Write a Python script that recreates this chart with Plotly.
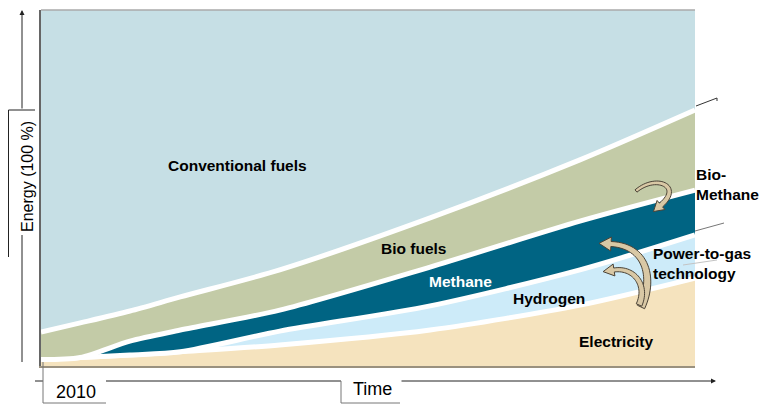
import plotly.graph_objects as go

# ---- data : share of energy (%) over time (0 = 2010, 1 = end of axis) ----
time = [0.0, 0.06, 0.136, 0.213, 0.365, 0.595, 0.824, 1.0]
electricity = [1.8, 2.4, 3.1, 4.0, 5.9, 10.1, 17.1, 24.7]
hydrogen = [0.0, 0.0, 0.0, 0.0, 3.9, 6.8, 9.9, 12.1]
methane = [0.0, 0.0, 3.9, 6.1, 5.9, 10.9, 13.7, 12.6]
bio_fuels = [7.75, 9.7, 8.45, 9.3, 11.3, 13.8, 17.2, 22.5]
conventional = [90.45, 87.9, 84.55, 80.6, 73.0, 58.4, 42.1, 28.1]

layers = [
    ("Electricity", electricity, "#F5E3BE"),
    ("Hydrogen", hydrogen, "#CDEBF9"),
    ("Methane", methane, "#006483"),
    ("Bio fuels", bio_fuels, "#C3CBA7"),
    ("Conventional fuels", conventional, "#C6DFE5"),
]

# page pixels of the plot area; the page body adds an 8px margin
W, H = 769, 406
OFF = 8
L, R, T, B = 41, 695, 10, 366
FONT = "Liberation Sans, Arial, sans-serif"


def px(x):
    return (x - L) / (R - L)


def py(y):
    return (B - y) / (B - T)


def bez(p0, c1, c2, p3, t):
    u = 1 - t
    x = u**3 * p0[0] + 3 * u * u * t * c1[0] + 3 * u * t * t * c2[0] + t**3 * p3[0]
    y = u**3 * p0[1] + 3 * u * u * t * c1[1] + 3 * u * t * t * c2[1] + t**3 * p3[1]
    dx = 3 * u * u * (c1[0] - p0[0]) + 6 * u * t * (c2[0] - c1[0]) + 3 * t * t * (p3[0] - c2[0])
    dy = 3 * u * u * (c1[1] - p0[1]) + 6 * u * t * (c2[1] - c1[1]) + 3 * t * t * (p3[1] - c2[1])
    n = (dx * dx + dy * dy) ** 0.5
    return x, y, dx / n, dy / n


def curved_arrow(p0, c1, c2, p3, w0, w1, head_len, head_w, n=30):
    left, right = [], []
    for i in range(n + 1):
        t = i / n
        x, y, dx, dy = bez(p0, c1, c2, p3, t)
        w = (w0 + (w1 - w0) * t) / 2
        left.append((x - dy * w, y + dx * w))
        right.append((x + dy * w, y - dx * w))
    x, y, dx, dy = bez(p0, c1, c2, p3, 1)
    head = [(x - dy * head_w, y + dx * head_w),
            (x + dx * head_len, y + dy * head_len),
            (x + dy * head_w, y - dx * head_w)]
    pts = left + head + right[::-1]
    return "M " + " L ".join(f"{px(a):.5f},{py(b):.5f}" for a, b in pts) + " Z"


fig = go.Figure()
for name, vals, col in layers:
    fig.add_trace(go.Scatter(
        x=time, y=vals, name=name, stackgroup="one", mode="lines",
        line=dict(color="white", width=0 if name == "Conventional fuels" else 5,
                  shape="spline", smoothing=0.8),
        fillcolor=col, hoverinfo="skip", showlegend=False,
    ))

shapes = []


def seg(x0, y0, x1, y1, color="#222", width=1):
    shapes.append(dict(type="line", xref="paper", yref="paper",
                       x0=px(x0), y0=py(y0), x1=px(x1), y1=py(y1),
                       line=dict(color=color, width=width)))


# plot frame
seg(L, T, R, T, "#aaaaaa", 1.5)
# callout ticks on the right
seg(696, 106, 717, 98, "#333", 1)
seg(717, 98, 717, 101, "#333", 1)
seg(695, 231, 724, 223, "#777", 1)
seg(683, 265, 717, 260, "#c4c4c4", 1)

# y axis and label bracket
seg(22, 235, 22, 362)
seg(8.5, 110, 35, 110)
seg(8.5, 110, 8.5, 257)
# x axis and boxes
seg(35, 381, 43, 381)
seg(43, 362, 43, 403, "#777")
seg(43, 403, 106, 403, "#777")
seg(106, 381, 341, 381)
seg(341, 381, 341, 403, "#777")
seg(341, 403, 400, 403, "#777")

# curved arrows
arrow_style = dict(type="path", xref="paper", yref="paper",
                   fillcolor="#D9C8A5", line=dict(color="#4a4236", width=1), layer="above")
shapes.append(dict(path=curved_arrow((636, 191), (656, 174), (683, 186), (661, 205), 3, 5, 10, 6), **arrow_style))
shapes.append(dict(path=curved_arrow((641, 307), (654, 280), (648, 246), (611, 244), 8, 5, 12, 7), **arrow_style))
shapes.append(dict(path=curved_arrow((639, 305), (648, 285), (634, 267), (614, 270), 6, 4, 11, 6), **arrow_style))

annotations = []


def label(text, x, y, size=15.5, color="black", bold=True, xanchor="center", **kw):
    annotations.append(dict(
        text=f"<b>{text}</b>" if bold else text,
        x=px(x), y=py(y), xref="paper", yref="paper", showarrow=False,
        xanchor=xanchor, yanchor="middle",
        font=dict(size=size, color=color, family=FONT), **kw))


label("Conventional fuels", 237, 165)
label("Bio fuels", 413, 248)
label("Methane", 460, 281, color="white")
label("Hydrogen", 549, 298)
label("Electricity", 616, 341)
label("Bio-<br>Methane", 694, 184, xanchor="left", align="left")
label("Power-to-gas<br>technology", 651, 263, xanchor="left", align="left")
label("Energy (100 %)", 27, 177, size=16, bold=False, textangle=-90)
label("2010", 76, 392, size=18, bold=False)
label("Time", 372, 389, size=18, bold=False)

# axis arrows
annotations.append(dict(x=px(22), y=py(10), xref="paper", yref="paper", text="",
                        showarrow=True, ax=0, ay=100, arrowhead=2, arrowsize=1,
                        arrowwidth=1, arrowcolor="#222"))
annotations.append(dict(x=px(716), y=py(381), xref="paper", yref="paper", text="",
                        showarrow=True, ax=-316, ay=0, arrowhead=2, arrowsize=1,
                        arrowwidth=1, arrowcolor="#222"))

fig.update_layout(
    width=W - OFF, height=H - OFF,
    margin=dict(l=L - OFF, r=W - R, t=T - OFF, b=H - B),
    paper_bgcolor="white", plot_bgcolor="white",
    xaxis=dict(range=[0, 1], showgrid=False, zeroline=False, showticklabels=False,
               ticks="", showline=True, linecolor="#9a917f", linewidth=1.5),
    yaxis=dict(range=[0, 100], showgrid=False, zeroline=False, showticklabels=False,
               ticks="", showline=True, linecolor="#666666", linewidth=2),
    shapes=shapes, annotations=annotations,
    font=dict(family=FONT),
)

fig.write_html("out.html")
